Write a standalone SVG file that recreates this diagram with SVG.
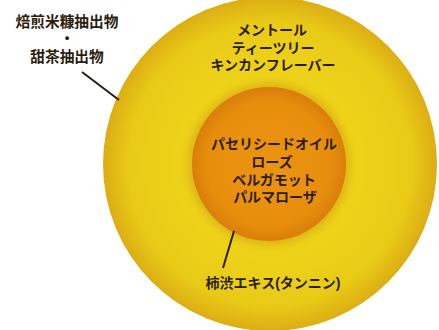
<svg xmlns="http://www.w3.org/2000/svg" width="439" height="330" viewBox="0 0 439 330">
<style>
.t{font-family:"Liberation Sans","Noto Sans CJK JP",sans-serif;font-weight:bold;fill:#2b1d0e;text-anchor:middle}
.lead{stroke:#2b1d0e;stroke-width:2;fill:none}
</style>
<defs>
<radialGradient id="gOuter" cx="0.5" cy="0.5" r="0.5">
<stop offset="0" stop-color="#eed41a"/>
<stop offset="0.5" stop-color="#eed41a"/>
<stop offset="0.85" stop-color="#e9ca17"/>
<stop offset="1" stop-color="#dcad14"/>
</radialGradient>
<radialGradient id="gInner" cx="0.5" cy="0.5" r="0.5">
<stop offset="0" stop-color="#eb9410"/>
<stop offset="0.8" stop-color="#e88e0d"/>
<stop offset="1" stop-color="#d97e0a"/>
</radialGradient>
<filter id="blur" x="-30%" y="-30%" width="160%" height="160%">
<feGaussianBlur stdDeviation="5"/>
</filter>
</defs>
<rect width="439" height="330" fill="#ffffff"/>
<g id="outer">
<circle cx="270" cy="164" r="167" fill="url(#gOuter)"/>
</g>
<g id="inner">
<circle cx="269" cy="164" r="81" fill="#d9a812" filter="url(#blur)" opacity="0.8"/>
<circle cx="269" cy="164" r="77" fill="url(#gInner)"/>
</g>
<g id="connectors">
<line class="lead" x1="82" y1="72" x2="119" y2="100"/>
<line class="lead" x1="234" y1="231" x2="223" y2="268"/>
</g>
<g id="label-outer-left">
<text class="t" font-size="14.7"><tspan x="67" y="27">焙煎米糠抽出物</tspan><tspan x="67" y="44">・</tspan><tspan x="67" y="62">甜茶抽出物</tspan></text>
</g>
<g id="label-outer-top">
<text class="t" font-size="14"><tspan x="272" y="35">メントール</tspan><tspan x="273" y="52.5">ティーツリー</tspan><tspan x="273" y="70">キンカンフレーバー</tspan></text>
</g>
<g id="label-inner">
<text class="t" font-size="14"><tspan x="274" y="149">パセリシードオイル</tspan><tspan x="272" y="167">ローズ</tspan><tspan x="274" y="185">ベルガモット</tspan><tspan x="275" y="202">パルマローザ</tspan></text>
</g>
<g id="label-bottom">
<text class="t" x="273" y="288" font-size="14">柿渋エキス(タンニン)</text>
</g>
</svg>
